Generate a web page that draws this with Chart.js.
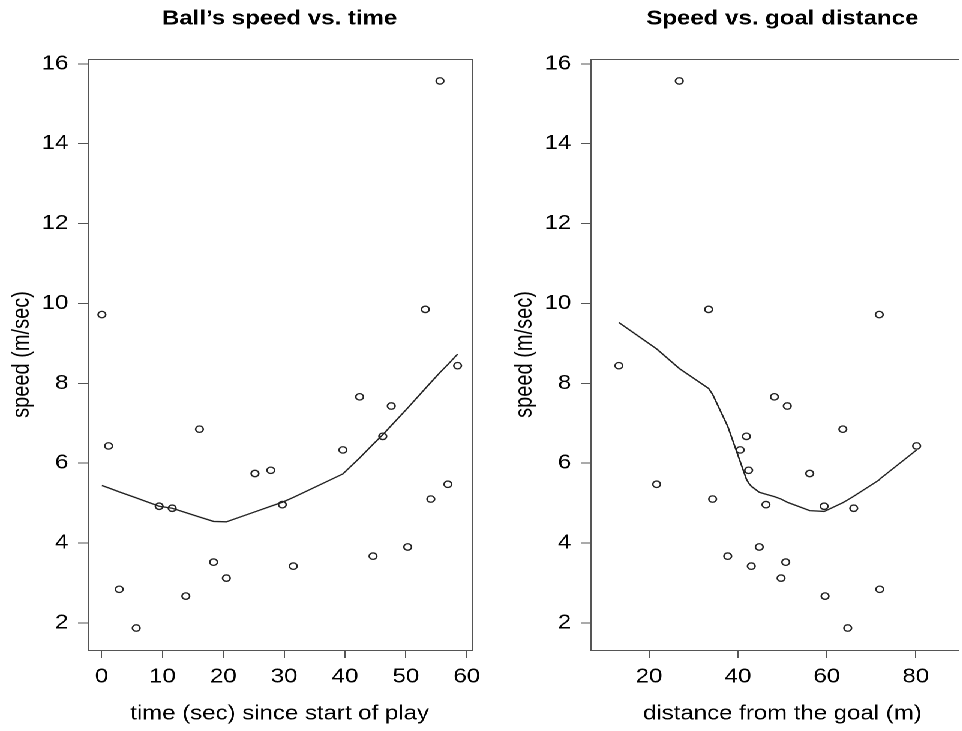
<!DOCTYPE html>
<html lang="en">
<head>
    <meta charset="UTF-8">
    <script src="https://cdn.jsdelivr.net/npm/chart.js"></script>
    <title>Ball speed</title>
    <style>
        html, body { margin: 0; padding: 0; background: #fff; overflow: hidden; width: 962px; height: 731px; }
        /* the reference picture is a bit stretched sideways, so stretch ours too */
        #wrap { position: absolute; left: 0; top: 0; width: 802px; height: 731px; overflow: hidden; transform: scaleX(1.2); transform-origin: 0 0; }
        #wrap canvas { position: absolute; top: 0; }
    </style>
</head>
<body>
    <div id="wrap">
        <canvas id="speedTime" width="466" height="731" style="left:0px"></canvas>
        <canvas id="speedDist" width="466" height="731" style="left:419px"></canvas>
    </div>
    <script>
        // one entry per observation, ordered by time
        const time = [0.05, 1.15, 2.9, 5.69, 9.46, 11.6, 13.84, 16.08, 18.4, 20.5, 25.2, 27.8, 29.7, 31.5, 39.65, 42.4, 44.6, 46.2, 47.6, 50.3, 53.2, 54.1, 55.6, 56.9, 58.5];
        const speed = [9.72, 6.43, 2.84, 1.87, 4.92, 4.87, 2.67, 6.85, 3.52, 3.12, 5.74, 5.82, 4.96, 3.42, 6.33, 7.66, 3.67, 6.67, 7.43, 3.9, 9.85, 5.1, 15.57, 5.47, 8.44];
        const distance = [71.8, 80.2, 71.9, 64.7, 59.4, 66.05, 59.6, 63.6, 50.75, 49.7, 56.15, 42.4, 46.3, 43.0, 40.5, 48.2, 37.7, 41.9, 51.1, 44.8, 33.4, 34.3, 26.8, 21.7, 13.2];

        // smoothed curve, at each time value (same order as time)
        const smoothByTime = [5.44, 5.38, 5.28, 5.13, 4.92, 4.87, 4.76, 4.65, 4.54, 4.53, 4.78, 4.92, 5.02, 5.14, 5.73, 6.13, 6.47, 6.71, 6.94, 7.38, 7.87, 8.02, 8.27, 8.47, 8.73];
        // smoothed curve, at each distance value sorted from low to high
        const smoothByDist = [9.52, 8.86, 8.37, 7.87, 7.72, 6.92, 6.04, 5.6, 5.5, 5.42, 5.27, 5.22, 5.16, 5.1, 5.04, 5.02, 4.81, 4.79, 4.8, 5.01, 5.08, 5.17, 5.58, 5.6, 6.33];

        const speedTicks = [2, 4, 6, 8, 10, 12, 14, 16];
        const timeTicks = [0, 10, 20, 30, 40, 50, 60];
        const distTicks = [20, 40, 60, 80];

        const FONT = "'Liberation Sans', Arial, Helvetica, sans-serif";
        const INK = '#222';

        // the right panel runs off the picture, so its box stops just
        // before the page edge (canvas x) and has no right side
        const cutAt = { speedTime: 0, speedDist: 380 };

        // R style box round the plot region
        const boxPlugin = {
            id: 'box',
            afterDraw(chart) {
                const a = chart.chartArea;
                const ctx = chart.ctx;
                const cut = cutAt[chart.canvas.id];
                const l = Math.round(a.left) + 0.5, r = Math.round(a.right) + 0.5;
                const t = Math.round(a.top) + 0.5, b = Math.round(a.bottom) + 0.5;
                ctx.save();
                ctx.strokeStyle = '#555';
                ctx.lineWidth = 1;
                ctx.beginPath();
                if (cut) {
                    ctx.moveTo(cut, t);
                    ctx.lineTo(l, t);
                    ctx.lineTo(l, b);
                    ctx.lineTo(cut, b);
                } else {
                    ctx.rect(l, t, r - l, b - t);
                }
                ctx.stroke();
                ctx.restore();
            }
        };

        function makeChart(id, title, xLabel, xMin, xMax, xTicks, points, curve) {
            new Chart(document.getElementById(id), {
                type: 'scatter',
                data: {
                    datasets: [{
                        data: points,
                        pointStyle: 'circle',
                        pointRadius: 3.2,
                        borderWidth: 1.3,
                        borderColor: INK,
                        backgroundColor: 'rgba(0,0,0,0)'
                    }, {
                        data: curve,
                        showLine: true,
                        pointRadius: 0,
                        borderWidth: 1.3,
                        borderColor: INK,
                        tension: 0
                    }]
                },
                options: {
                    responsive: false,
                    animation: false,
                    devicePixelRatio: 2,
                    layout: { padding: 0 },
                    plugins: {
                        legend: { display: false },
                        tooltip: { enabled: false },
                        title: {
                            display: true,
                            text: title,
                            color: '#000',
                            font: { family: FONT, size: 20, weight: 'bold' },
                            padding: { top: 6.8, bottom: 28.2 }
                        }
                    },
                    scales: {
                        x: {
                            type: 'linear',
                            min: xMin,
                            max: xMax,
                            afterBuildTicks: s => { s.ticks = xTicks.map(v => ({ value: v })); },
                            afterFit: s => { s.height = 81; },
                            border: { display: false },
                            grid: { drawOnChartArea: false, drawTicks: true, tickLength: 8, color: '#555' },
                            ticks: { autoSkip: false, maxRotation: 0, padding: 7, color: '#000', font: { family: FONT, size: 20 } },
                            title: { display: true, text: xLabel, color: '#000', font: { family: FONT, size: 20 }, padding: { top: 0, bottom: 5 } }
                        },
                        y: {
                            type: 'linear',
                            min: 1.32,
                            max: 16.12,
                            afterBuildTicks: s => { s.ticks = speedTicks.map(v => ({ value: v })); },
                            afterFit: s => { s.width = 73; },
                            border: { display: false },
                            grid: { drawOnChartArea: false, drawTicks: true, tickLength: 8, color: '#555' },
                            ticks: { autoSkip: false, padding: 8, color: '#000', font: { family: FONT, size: 20 } },
                            title: { display: true, text: 'speed (m/sec)', color: '#000', font: { family: FONT, size: 20 }, padding: { top: 6.3, bottom: 0 } }
                        },
                        // empty axis on the right, only to keep the plot centred under the title
                        spacer: {
                            type: 'linear',
                            position: 'right',
                            afterFit: s => { s.width = 73; },
                            border: { display: false },
                            grid: { display: false },
                            ticks: { display: false }
                        }
                    }
                },
                plugins: [boxPlugin]
            });
        }

        // left panel: speed against time
        const timePoints = time.map((t, i) => ({ x: t, y: speed[i] }));
        const timeCurve = time.map((t, i) => ({ x: t, y: smoothByTime[i] }));
        makeChart('speedTime', 'Ball\u2019s speed vs. time', 'time (sec) since start of play',
            -2.3, 60.8, timeTicks, timePoints, timeCurve);

        // right panel: speed against distance
        const distPoints = distance.map((d, i) => ({ x: d, y: speed[i] }));
        const distSorted = distance.slice().sort((a, b) => a - b);
        const distCurve = distSorted.map((d, i) => ({ x: d, y: smoothByDist[i] }));
        makeChart('speedDist', 'Speed vs. goal distance', 'distance from the goal (m)',
            6.8, 93.2, distTicks, distPoints, distCurve);
    </script>
</body>
</html>
